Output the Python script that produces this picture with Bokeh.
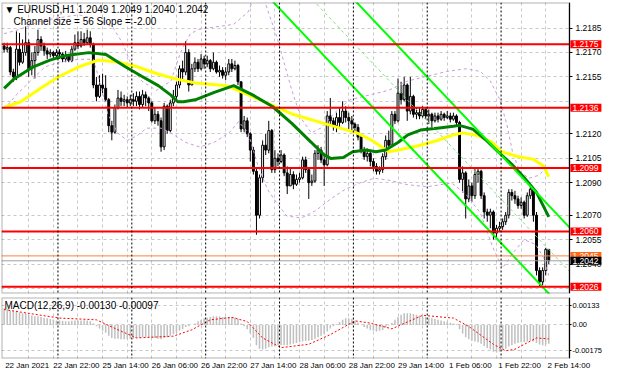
from bokeh.plotting import figure
from bokeh.models import (FixedTicker, Label, Span, Range1d, NumeralTickFormatter,
                          ColumnDataSource, LinearAxis, BoxAnnotation)
from bokeh.layouts import column
from bokeh.embed import file_html
from bokeh.resources import INLINE

FONT = "Liberation Sans"
BASE = 1.2000
PIP = 0.0001

# ---------------- data (EURUSD H1, prices in pips above 1.2000) ----------------
first_open_pips = 174
close_pips = [172, 173, 158, 155, 172, 164, 170, 176, 160, 165,
              170, 178, 174, 171, 169, 170, 168, 170, 169, 166,
              168, 165, 172, 176, 174, 178, 176, 179, 175, 150,
              143, 150, 148, 141, 125, 121, 136, 142, 140, 141,
              139, 141, 140, 143, 138, 144, 142, 139, 128, 132,
              128, 112, 137, 122, 139, 143, 150, 160, 158, 170,
              150, 160, 164, 160, 166, 163, 165, 160, 164, 158,
              159, 156, 158, 163, 160, 162, 152, 123, 128, 120,
              110, 97, 70, 93, 113, 110, 122, 98, 105, 103,
              107, 96, 88, 95, 89, 92, 93, 104, 98, 90,
              91, 108, 110, 104, 101, 131, 128, 125, 130, 127,
              134, 130, 128, 126, 124, 118, 110, 106, 108, 103,
              100, 97, 98, 106, 116, 113, 132, 128, 145, 141,
              150, 134, 143, 132, 133, 131, 135, 131, 132, 128,
              131, 129, 132, 130, 131, 129, 131, 127, 92, 96,
              80, 88, 82, 95, 97, 82, 72, 70, 72, 59,
              62, 63, 66, 70, 84, 82, 80, 76, 78, 70,
              82, 86, 70, 36, 29, 36, 49, 42]
high_pips = [176, 176, 174, 160, 183, 182, 178, 186, 178, 170,
             174, 184, 180, 176, 173, 172, 171, 172, 172, 170,
             171, 169, 174, 181, 183, 183, 182, 184, 183, 176,
             155, 156, 157, 156, 142, 128, 138, 147, 146, 144,
             143, 144, 145, 146, 146, 147, 146, 143, 140, 136,
             134, 130, 139, 138, 141, 147, 152, 162, 165, 177,
             172, 163, 167, 166, 169, 168, 168, 166, 170, 165,
             162, 161, 161, 166, 166, 165, 163, 152, 131, 130,
             121, 112, 99, 95, 116, 120, 128, 123, 110, 108,
             110, 108, 100, 99, 97, 95, 96, 106, 106, 99,
             95, 110, 113, 112, 107, 134, 142, 130, 133, 136,
             140, 137, 133, 131, 127, 126, 119, 112, 111, 109,
             105, 102, 100, 108, 119, 122, 134, 134, 154, 152,
             155, 151, 155, 144, 136, 136, 137, 136, 135, 133,
             133, 133, 134, 133, 134, 133, 133, 132, 128, 100,
             97, 92, 90, 99, 99, 98, 84, 74, 74, 73,
             64, 66, 68, 72, 86, 86, 85, 82, 81, 79,
             84, 88, 87, 72, 38, 38, 50, 49]
low_pips = [170, 170, 156, 152, 153, 162, 163, 168, 155, 156,
            154, 168, 171, 168, 166, 167, 166, 167, 166, 164,
            164, 164, 164, 171, 172, 173, 174, 175, 173, 148,
            140, 142, 145, 140, 121, 116, 120, 135, 137, 137,
            136, 137, 137, 137, 135, 136, 137, 134, 127, 126,
            125, 109, 110, 120, 121, 137, 141, 148, 153, 156,
            146, 150, 158, 158, 159, 160, 161, 158, 159, 157,
            155, 154, 153, 156, 158, 159, 150, 121, 121, 118,
            103, 95, 58, 68, 90, 107, 108, 96, 96, 100,
            102, 94, 83, 88, 86, 88, 90, 92, 96, 80,
            88, 90, 104, 102, 88, 100, 125, 122, 121, 124,
            126, 127, 123, 122, 121, 116, 108, 104, 103, 100,
            97, 95, 95, 96, 104, 111, 112, 126, 127, 138,
            140, 128, 132, 130, 129, 129, 130, 129, 126, 124,
            127, 127, 128, 128, 129, 127, 128, 125, 90, 84,
            68, 78, 78, 80, 90, 80, 68, 66, 62, 55,
            56, 60, 61, 64, 68, 79, 77, 74, 74, 68,
            69, 80, 66, 33, 26, 27, 33, 40]

# moving averages (bar index, pips)
green_ma_bar = [0, 3.2, 9.5, 14.9, 20.2, 27.5, 33.1, 39.4, 44.7, 50.1, 54.2, 56.4, 58.3, 62.1,
                68.3, 74.6, 80.9, 87.2, 93.5, 99.8, 103.9, 106.1, 110.2, 113.3, 117.7, 120.8,
                124.0, 128.1, 131.2, 135.3, 140.7, 146.0, 147.9, 152.3, 156.4, 160.5, 164.9,
                168.9, 173.0, 177.0]
green_ma_pips = [147.9, 153.7, 161.2, 165.3, 168.2, 169.9, 168.7, 161.2, 155.4, 149.6, 143.8,
                 139.7, 139.7, 140.9, 145.5, 149.6, 143.8, 136.8, 126.4, 114.8, 107.2, 104.9,
                 105.5, 109.0, 110.1, 109.0, 110.1, 114.8, 119.4, 122.3, 123.5, 124.6, 125.2,
                 122.9, 116.5, 109.0, 101.4, 93.3, 84.0, 69.0]
yellow_ma_bar = [0, 5.4, 11.7, 18.0, 24.3, 30.6, 36.9, 43.2, 49.5, 55.8, 62.1, 72.4, 83.1, 89.4,
                 93.5, 103.9, 109.2, 114.6, 119.6, 124.9, 128.1, 135.3, 140.7, 146.0, 149.1,
                 154.2, 158.6, 161.7, 166.8, 172.1, 175.3, 177.0]
yellow_ma_pips = [136.2, 139.7, 147.9, 155.4, 161.2, 165.3, 164.1, 161.2, 157.1, 153.7, 151.3,
                  149.6, 140.9, 135.7, 132.2, 126.4, 123.5, 120.6, 115.9, 109.0, 110.1, 113.0,
                  115.9, 119.4, 120.6, 118.8, 114.8, 109.0, 106.1, 104.3, 100.3, 93.5]

# envelope bands (dashed violet)
upper_band_bar = [0, 5.4, 11.7, 18.0, 24.3, 30.6, 35.3, 38.5, 41.6, 44.7, 49.5, 54.2, 57.3, 60.5,
                  63.6, 68.3, 74.6, 79.3, 81.5, 84.1, 88.8, 93.5, 96.6, 99.8, 102.9, 107.6, 112.4,
                  118.6, 124.9, 131.2, 137.5, 143.8, 150.1, 154.8, 158.0, 161.1, 163.3, 165.2,
                  167.4, 170.5, 173.7, 177.0]
upper_band_pips = [181.5, 184.4, 189.1, 191.4, 193.1, 190.2, 185.6, 175.7, 161.2, 152.5, 146.7,
                   152.5, 169.9, 181.5, 184.4, 185.6, 187.3, 194.9, 204.7, 204.7, 178.6, 146.7,
                   129.3, 120.6, 123.5, 133.3, 140.9, 143.8, 146.7, 152.5, 155.4, 158.3, 160.0,
                   158.3, 152.5, 140.9, 126.4, 109.0, 97.4, 92.7, 94.5, 100.3]
lower_band_bar = [0, 3.9, 8.6, 13.3, 18.0, 24.3, 29.0, 30.6, 33.7, 36.9, 40.0, 43.2, 46.3, 51.0,
                  54.2, 58.9, 63.6, 68.3, 73.1, 76.2, 79.3, 82.5, 85.6, 88.8, 91.9, 96.6, 101.4,
                  106.1, 110.8, 115.5, 120.2, 124.9, 131.2, 137.5, 145.4, 150.1, 154.8, 158.9,
                  162.0, 165.2, 168.9, 172.7, 175.3, 177.0]
lower_band_pips = [135.1, 143.8, 152.5, 161.2, 164.1, 165.8, 165.8, 155.4, 132.2, 120.6, 115.9,
                   118.8, 123.5, 123.5, 120.6, 114.8, 111.9, 114.8, 120.6, 127.5, 120.6, 100.3,
                   85.8, 77.0, 69.5, 68.3, 73.0, 80.0, 85.8, 89.8, 92.7, 91.6, 88.7, 87.5, 89.8,
                   82.9, 71.2, 49.8, 37.6, 46.3, 55.0, 52.1, 44.0, 33.0]

# regression channel: "Channel size = 56 Slope = -2.00"
channel_upper_last_pips = 75.9     # upper line value at the last bar
channel_slope_pips = -2.0          # per bar
channel_width_pips = 54.0

# horizontal levels and price tags
levels = [1.2175, 1.2136, 1.2099, 1.2060, 1.2026]
ask_price = 1.2045
bid_price = 1.2042

# MACD(12,26,9) histogram (1e-5 units) and signal line
macd_e5 = [115, 110, 100, 95, 90, 85, 80, 80, 70, 65,
           60, 60, 55, 50, 45, 40, 35, 30, 30, 28,
           25, 25, 28, 30, 30, 30, 32, 30, 25, 10,
           -10, -25, -40, -55, -75, -90, -95, -95, -100, -100,
           -95, -95, -95, -90, -90, -85, -85, -85, -90, -90,
           -95, -100, -90, -85, -75, -65, -55, -40, -30, -15,
           -10, 0, 10, 25, 35, 45, 50, 55, 60, 60,
           60, 55, 55, 55, 55, 50, 40, 10, -10, -30,
           -60, -90, -140, -165, -170, -165, -155, -150, -145, -140,
           -140, -140, -140, -135, -130, -125, -120, -115, -110, -110,
           -105, -95, -85, -75, -65, -45, -25, -10, 5, 20,
           35, 45, 45, 40, 30, 15, 0, -15, -25, -35,
           -40, -45, -40, -35, -20, -5, 15, 35, 55, 70,
           80, 80, 80, 75, 70, 65, 60, 55, 50, 45,
           40, 35, 30, 25, 20, 15, 10, 5, -30, -60,
           -85, -100, -110, -115, -120, -130, -145, -160, -170, -185,
           -190, -185, -175, -165, -150, -140, -130, -125, -120, -120,
           -115, -110, -115, -125, -135, -140, -135, -130]
signal_bar = [0, 18, 30, 37, 43, 55, 61, 67, 74, 79, 84, 90, 99, 106, 114, 119, 126, 136,
              146, 151, 159, 163, 166, 173, 177]
signal_e5 = [106, 47, 35, -34, -90, -78, -34, 35, 52, 23, -90, -157, -134, -67, 28, 12, -27,
             66, 47, -11, -134, -179, -168, -90, -97]

# time axis
days = ["22 Jan", "25 Jan", "26 Jan", "27 Jan", "28 Jan", "29 Jan", "1 Feb", "2 Feb"]
x_labels = ["22 Jan 2021", "22 Jan 22:00", "25 Jan 14:00", "26 Jan 06:00", "26 Jan 22:00",
            "27 Jan 14:00", "28 Jan 06:00", "28 Jan 22:00", "29 Jan 14:00", "1 Feb 06:00",
            "1 Feb 22:00", "2 Feb 14:00"]
label_step = 16
grid_step = 8

price_ticks = [1.2040, 1.2055, 1.2070, 1.2090, 1.2105, 1.2120, 1.2155, 1.2170, 1.2185]
price_grid = [1.2025, 1.2040, 1.2055, 1.2070, 1.2090, 1.2105, 1.2120, 1.2140, 1.2155, 1.2170, 1.2185]
macd_ticks = [-0.00175, 0.0, 0.00133]
macd_tick_text = ["-0.00175", "0.00", "0.00133"]

# ---------------- derived ----------------
def to_price(v):
    return BASE + v * PIP

n = len(close_pips)
idx = list(range(n))
open_pips = [first_open_pips] + close_pips[:-1]
o = [to_price(v) for v in open_pips]
c = [to_price(v) for v in close_pips]
h = [to_price(v) for v in high_pips]
l = [to_price(v) for v in low_pips]
bull = [ci >= oi for oi, ci in zip(o, c)]
src = ColumnDataSource(dict(
    x=idx, high=h, low=l,
    top=[max(a, b) for a, b in zip(o, c)],
    bottom=[min(a, b) for a, b in zip(o, c)],
    fill=["white" if b else "black" for b in bull],
))

X_START, X_END, X_MAX = -0.85, 183.7, 195.1     # chart area ends at X_END, price scale beyond
day_starts = [18 + 24 * k for k in range(len(days) - 1)]
vgrid = list(range(grid_step, n + 6, grid_step))

W = 604
xr = Range1d(X_START, X_MAX)
common = dict(width=W, output_backend="svg", toolbar_location=None, x_range=xr,
              min_border_left=1, min_border_right=0, y_axis_location=None)


def style_axis(ax, size="8.5px"):
    ax.major_label_text_font = FONT
    ax.major_label_text_font_size = size
    ax.major_label_text_color = "black"
    ax.minor_tick_line_color = None
    ax.axis_line_color = "black"


def frame_decor(fig):
    # white price-scale area + chart border
    fig.add_layout(BoxAnnotation(left=X_END, fill_color="white", fill_alpha=1.0,
                                 line_color=None, level="underlay"))
    fig.add_layout(BoxAnnotation(left=X_START, right=X_END, fill_alpha=0.0,
                                 line_color="black", line_width=2, level="overlay"))
    for b in day_starts:
        fig.add_layout(Span(location=b - 0.5, dimension="height", line_color="black",
                            line_dash="2 2", line_width=1))


# ---------------- price panel ----------------
p = figure(height=294, y_range=Range1d(1.20219, 1.22007), x_axis_location=None,
           min_border_top=2, min_border_bottom=1, **common)
p.outline_line_color = None

ay = LinearAxis(fixed_location=X_END, ticker=FixedTicker(ticks=price_ticks),
                formatter=NumeralTickFormatter(format="0.0000"),
                major_label_standoff=3, major_tick_out=3, major_tick_in=0)
style_axis(ay)
p.add_layout(ay, "right")

p.ygrid.ticker = FixedTicker(ticks=price_grid)
p.xgrid.ticker = FixedTicker(ticks=vgrid)
for g in (p.xgrid, p.ygrid):
    g.grid_line_color = "#C8C8C8"
    g.grid_line_dash = "3 3"
    g.grid_line_width = 1
frame_decor(p)

# candles
p.segment(x0="x", y0="low", x1="x", y1="high", source=src, line_color="black", line_width=1)
p.vbar(x="x", width=0.62, top="top", bottom="bottom", source=src, fill_color="fill",
       line_color="black", line_width=1)

# bands
p.line(upper_band_bar, [to_price(v) for v in upper_band_pips],
       line_color="#C89BDC", line_dash="3 3", line_width=1)
p.line(lower_band_bar, [to_price(v) for v in lower_band_pips],
       line_color="#C89BDC", line_dash="3 3", line_width=1)

# moving averages
p.line(yellow_ma_bar, [to_price(v) for v in yellow_ma_pips], line_color="#FFFF00", line_width=3)
p.line(green_ma_bar, [to_price(v) for v in green_ma_pips], line_color="#008000", line_width=3)

# channel
last = n - 1
ch_x = [40, X_END]
def chan(offset):
    return [to_price(channel_upper_last_pips - offset + channel_slope_pips * (xx - last)) for xx in ch_x]
p.line(ch_x, chan(0), line_color="#00FF00", line_width=2)
p.line(ch_x, chan(channel_width_pips), line_color="#00FF00", line_width=2)
p.line(ch_x, chan(channel_width_pips / 2), line_color="#7CE07C", line_width=1, line_dash="3 3")

# horizontal levels
lv_src = ColumnDataSource(dict(x0=[X_START] * len(levels), x1=[X_END] * len(levels), y=levels))
p.segment(x0="x0", x1="x1", y0="y", y1="y", source=lv_src, line_color="#FF0000", line_width=2)
p.segment(x0=[X_START], x1=[X_END], y0=[ask_price], y1=[ask_price], line_color="#FF7F3F", line_width=1)
p.segment(x0=[X_START], x1=[X_END], y0=[bid_price], y1=[bid_price], line_color="#A0A0A0", line_width=1)

TAG_PAD = dict(left=2, right=3, top=1, bottom=1)


def tag(price, bg):
    p.add_layout(Label(x=X_END, y=price, x_offset=1, text=f"{price:.4f}", text_align="left",
                       text_baseline="middle", text_color="white", text_font=FONT,
                       text_font_size="8.5px", background_fill_color=bg, padding=TAG_PAD))


for lv in levels:
    tag(lv, "#FF0000")
tag(ask_price, "#FF6A1A")
tag(bid_price, "#000000")

# header texts
p.add_layout(Label(x=X_START, y=1.22007, x_offset=3, y_offset=-1,
                   text="\u25bc EURUSD,H1  1.2049 1.2049 1.2040 1.2042",
                   text_baseline="top", text_font=FONT, text_font_size="10px", text_color="black"))
p.add_layout(Label(x=X_START, y=1.22007, x_offset=12, y_offset=-13,
                   text="Channel size = 56 Slope = -2.00",
                   text_baseline="top", text_font=FONT, text_font_size="10px", text_color="black"))

# ---------------- MACD panel ----------------
m = figure(height=78, y_range=Range1d(-0.00232, 0.00189), min_border_top=3,
           min_border_bottom=0, **common)
m.outline_line_color = None
m.vbar(x=idx, width=0.5, top=[v * 1e-5 for v in macd_e5], bottom=0,
       fill_color="#C0C0C0", line_color=None)
m.line(signal_bar, [v * 1e-5 for v in signal_e5], line_color="#FF0000", line_dash="2 2",
       line_width=1)

my = LinearAxis(fixed_location=X_END, ticker=FixedTicker(ticks=macd_ticks),
                major_label_overrides={t: s for t, s in zip(macd_ticks, macd_tick_text)},
                major_label_standoff=1, major_tick_out=2, major_tick_in=0)
style_axis(my, "7.5px")
m.add_layout(my, "right")

label_pos = [label_step * k + 7.5 for k in range(len(x_labels))]
m.xaxis.ticker = FixedTicker(ticks=label_pos)
m.xaxis.major_label_overrides = {t: s for t, s in zip(label_pos, x_labels)}
style_axis(m.xaxis[0], "8px")
m.xaxis.major_label_standoff = 2
m.xaxis.major_tick_line_color = None
m.xaxis.major_tick_out = 0
m.xaxis.axis_line_color = None

m.ygrid.ticker = FixedTicker(ticks=macd_ticks)
m.xgrid.ticker = FixedTicker(ticks=vgrid)
for g in (m.xgrid, m.ygrid):
    g.grid_line_color = "#C8C8C8"
    g.grid_line_dash = "3 3"
frame_decor(m)

m.add_layout(Label(x=X_START, y=0.00189, x_offset=3, y_offset=-2,
                   text="MACD(12,26,9) -0.00130 -0.00097", text_baseline="top",
                   text_font=FONT, text_font_size="10px", text_color="black"))

layout = column(p, m)
open("out.html", "w").write(file_html(layout, INLINE))
